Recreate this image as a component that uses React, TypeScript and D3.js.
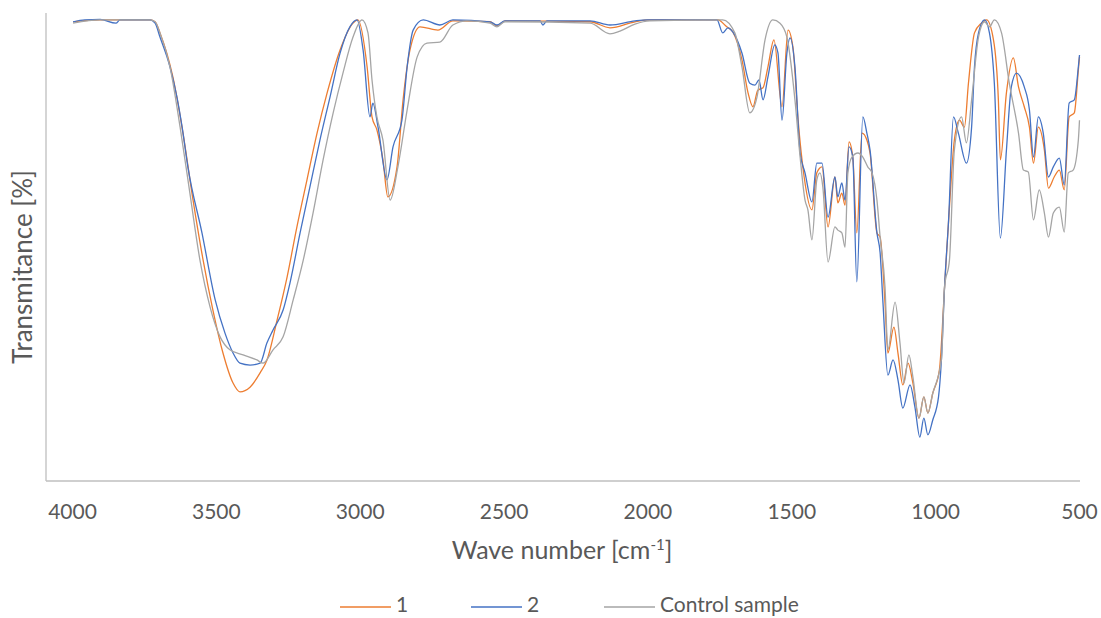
import React from "react";
import * as d3 from "d3";

// FTIR spectra, [wave number cm-1, transmittance %]
const sample1: [number, number][] = [
  [3998, 99.4], [3904, 99.8], [3731, 99.8], [3713, 99.4], [3696, 97.0], [3651, 87.4],
  [3616, 75.3], [3581, 60.8], [3546, 47.8], [3512, 37.0], [3477, 27.7], [3442, 21.2],
  [3418, 19.3], [3383, 20.3], [3348, 23.4], [3324, 26.2], [3289, 34.8], [3254, 44.2],
  [3220, 55.0], [3185, 65.2], [3150, 75.3], [3115, 84.0], [3070, 93.3], [3025, 99.1],
  [3008, 99.8], [2976, 89.6], [2959, 78.8], [2942, 76.0], [2921, 69.5], [2904, 61.5],
  [2872, 68.0], [2851, 82.5], [2827, 93.3], [2792, 98.3], [2730, 97.6], [2678, 99.6],
  [2549, 99.4], [2525, 98.5], [2497, 99.6], [2201, 99.4], [2132, 98.1], [2045, 99.4],
  [1993, 99.8], [1757, 99.8], [1726, 98.3], [1705, 97.2], [1673, 91.1], [1652, 84.0],
  [1635, 81.0], [1618, 84.6], [1600, 85.1], [1583, 89.6], [1562, 95.5], [1534, 81.0],
  [1513, 97.6], [1496, 93.9], [1478, 78.1], [1457, 65.8], [1430, 58.7], [1413, 66.7],
  [1395, 68.0], [1374, 55.0], [1350, 65.8], [1340, 60.2], [1326, 62.3], [1315, 59.7],
  [1301, 73.4], [1288, 70.1], [1274, 53.7], [1256, 75.3], [1239, 73.8], [1228, 71.0],
  [1204, 53.7], [1193, 52.8], [1176, 38.5], [1166, 27.7], [1145, 33.3], [1131, 27.7],
  [1114, 20.8], [1096, 25.5], [1079, 21.2], [1058, 13.6], [1041, 18.2], [1027, 14.7],
  [1010, 19.0], [987, 24.0], [969, 42.0], [952, 59.3], [935, 73.8], [917, 78.1],
  [900, 76.6], [886, 86.1], [865, 97.0], [841, 99.1], [823, 99.8], [799, 95.5],
  [782, 82.5], [775, 69.5], [754, 84.0], [730, 91.6], [712, 85.3], [692, 81.0],
  [674, 76.6], [660, 68.8], [643, 76.6], [622, 71.6], [608, 63.4], [588, 65.8],
  [570, 67.3], [553, 63.0], [536, 78.8], [518, 79.7], [504, 89.0], [500, 91.8],
];

const sample2: [number, number][] = [
  [3998, 99.4], [3957, 99.8], [3904, 99.9], [3849, 99.1], [3835, 99.8], [3765, 99.8],
  [3731, 99.8], [3713, 99.1], [3696, 96.1], [3661, 89.6], [3637, 83.1], [3619, 76.6],
  [3599, 68.0], [3550, 53.7], [3504, 39.2], [3470, 32.0], [3442, 27.7], [3418, 25.5],
  [3383, 25.1], [3348, 25.5], [3324, 29.9], [3303, 32.7], [3268, 37.0], [3244, 42.9],
  [3209, 53.7], [3175, 63.6], [3140, 73.8], [3105, 83.1], [3070, 92.6], [3036, 98.3],
  [3011, 99.8], [2990, 93.3], [2966, 78.8], [2956, 81.8], [2938, 76.6], [2907, 65.2],
  [2886, 72.3], [2855, 78.1], [2837, 89.6], [2816, 97.6], [2781, 99.8], [2723, 98.7],
  [2678, 99.8], [2549, 99.4], [2525, 98.7], [2497, 99.6], [2375, 99.6], [2365, 98.7],
  [2351, 99.6], [2201, 99.6], [2132, 98.7], [2045, 99.6], [2003, 99.8], [1760, 99.8],
  [1740, 97.0], [1722, 98.1], [1705, 97.2], [1673, 92.6], [1646, 86.1], [1628, 85.7],
  [1614, 86.8], [1600, 82.5], [1583, 87.4], [1559, 94.4], [1548, 92.6], [1534, 78.1],
  [1517, 92.6], [1506, 95.9], [1489, 89.6], [1471, 71.0], [1454, 66.7], [1430, 60.4],
  [1413, 68.8], [1395, 68.8], [1374, 57.1], [1350, 65.8], [1340, 61.5], [1326, 64.5],
  [1315, 60.8], [1301, 72.3], [1288, 70.1], [1274, 43.1], [1253, 78.8], [1239, 75.3],
  [1228, 71.6], [1204, 53.7], [1193, 49.4], [1183, 38.5], [1166, 22.9], [1148, 26.2],
  [1131, 21.9], [1114, 15.8], [1089, 20.8], [1072, 16.0], [1055, 9.5], [1041, 13.6],
  [1027, 10.0], [1010, 13.2], [990, 18.2], [980, 26.2], [969, 42.0], [955, 56.5],
  [938, 78.8], [921, 75.3], [893, 68.8], [875, 76.6], [865, 89.6], [851, 97.0],
  [830, 99.8], [813, 97.0], [796, 86.1], [775, 52.6], [754, 71.6], [737, 85.3],
  [719, 88.3], [692, 85.3], [674, 80.3], [660, 70.1], [643, 78.8], [626, 75.3],
  [608, 65.8], [591, 68.0], [570, 69.9], [553, 64.1], [536, 81.8], [518, 82.5],
  [504, 89.6], [500, 92.2],
];

const control: [number, number][] = [
  [3998, 99.1], [3904, 99.8], [3731, 99.8], [3713, 99.4], [3696, 97.0], [3661, 89.6],
  [3626, 76.6], [3592, 62.3], [3557, 47.8], [3522, 37.7], [3487, 31.2], [3453, 28.4],
  [3407, 27.3], [3359, 26.2], [3338, 25.5], [3303, 28.4], [3268, 31.2], [3233, 39.2],
  [3198, 47.8], [3164, 58.0], [3129, 69.5], [3094, 79.7], [3060, 88.3], [3025, 96.1],
  [2994, 99.8], [2973, 97.0], [2959, 86.8], [2942, 78.8], [2921, 73.8], [2896, 60.8],
  [2869, 68.0], [2837, 80.3], [2802, 91.8], [2768, 94.8], [2723, 95.0], [2678, 98.7],
  [2629, 99.6], [2549, 99.1], [2525, 98.3], [2497, 99.4], [2201, 99.1], [2132, 96.8],
  [2097, 97.4], [2045, 98.9], [1993, 99.6], [1740, 99.8], [1698, 97.0], [1673, 89.6],
  [1646, 79.7], [1621, 83.1], [1593, 95.5], [1566, 99.8], [1541, 99.1], [1517, 96.1],
  [1489, 82.5], [1471, 70.1], [1454, 60.8], [1444, 58.7], [1430, 52.2], [1413, 65.2],
  [1402, 66.7], [1392, 63.6], [1374, 47.4], [1350, 55.0], [1340, 54.3], [1326, 53.7],
  [1315, 50.6], [1305, 66.7], [1291, 70.1], [1270, 71.0], [1253, 70.1], [1236, 68.0],
  [1221, 66.7], [1204, 60.8], [1193, 52.8], [1176, 42.0], [1166, 28.4], [1141, 38.7],
  [1124, 29.9], [1110, 21.2], [1093, 27.3], [1079, 22.5], [1058, 13.6], [1041, 18.2],
  [1027, 14.7], [1010, 19.0], [980, 26.2], [969, 42.0], [952, 47.8], [935, 71.6],
  [910, 78.8], [893, 73.2], [875, 82.5], [851, 96.1], [830, 99.4], [813, 98.3],
  [796, 99.8], [771, 97.0], [744, 86.1], [712, 75.3], [695, 67.3], [678, 66.9],
  [660, 56.5], [640, 63.0], [622, 58.0], [608, 52.8], [591, 58.0], [570, 59.3],
  [553, 53.9], [539, 66.7], [522, 67.3], [504, 73.8], [500, 78.1],
];

const seriesNames = ["1", "2", "Control sample"];
const seriesColors = ["#ED7D31", "#4472C4", "#A5A5A5"];
const xTicks = [4000, 3500, 3000, 2500, 2000, 1500, 1000, 500];

const W = 1101;
const H = 618;
const FONT = "Lato, 'Open Sans', sans-serif";

export default function App() {
  const x = d3.scaleLinear().domain([4000, 500]).range([72.5, 1079.5]);
  const y = d3.scaleLinear().domain([0, 100]).range([481, 19]);
  const plotLeft = 46;
  const plotRight = 1080;
  const plotBottom = 481;
  const plotTop = 13;

  const line = d3
    .line<[number, number]>()
    .x((d) => x(d[0]))
    .y((d) => y(d[1]))
    .curve(d3.curveMonotoneX);

  const all = [sample1, sample2, control];

  // legend item positions
  const legendX = [340, 471, 604];

  return (
    <svg
      width={W}
      height={H}
      style={{ position: "absolute", left: 0, top: 0, background: "#fff" }}
      fontFamily={FONT}
    >
      <rect x={0} y={0} width={W} height={H} fill="#fff" />
      {/* axes */}
      <line x1={plotLeft} y1={plotTop} x2={plotLeft} y2={plotBottom} stroke="#BFBFBF" strokeWidth={1.3} />
      <line x1={plotLeft} y1={plotBottom} x2={plotRight} y2={plotBottom} stroke="#BFBFBF" strokeWidth={1.3} />

      {xTicks.map((t) => (
        <text key={t} x={x(t)} y={519} textAnchor="middle" fontSize={21} fill="#595959">
          {t}
        </text>
      ))}

      <text x={562} y={559} textAnchor="middle" fontSize={25} fill="#595959">
        Wave number [cm
        <tspan baselineShift="super" fontSize={15}>-1</tspan>]
      </text>

      <text
        transform={`translate(32, 267) rotate(-90)`}
        textAnchor="middle"
        fontSize={26}
        fill="#595959"
      >
        Transmitance [%]
      </text>

      {all.map((s, i) => (
        <path key={i} d={line(s) || ""} fill="none" stroke={seriesColors[i]} strokeWidth={1.3} />
      ))}

      {seriesNames.map((n, i) => (
        <g key={n}>
          <line x1={legendX[i]} y1={607} x2={legendX[i] + 51} y2={607} stroke={seriesColors[i]} strokeWidth={1.3} />
          <text x={legendX[i] + 56} y={612} fontSize={21} fill="#595959">
            {n}
          </text>
        </g>
      ))}
    </svg>
  );
}
